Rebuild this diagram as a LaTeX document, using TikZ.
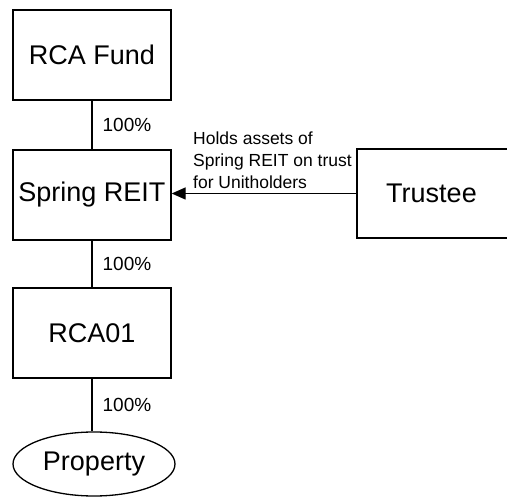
\documentclass[tikz,border=0pt]{standalone}
\usepackage{fontspec}
\setmainfont{Liberation Sans}
\usetikzlibrary{shapes.geometric,arrows.meta}
\begin{document}
\begin{tikzpicture}[x=1pt,y=-1pt,
  ent/.style={draw,line width=1.3pt,rectangle,minimum width=158pt,minimum height=90pt,inner sep=0pt,font=\fontsize{27}{32}\selectfont},
  pct/.style={anchor=west,inner sep=0pt,xshift=10pt,font=\fontsize{19}{22}\selectfont},
  link/.style={line width=1.3pt}]
\clip (0,0) rectangle (507,497);
\useasboundingbox (0,0) rectangle (507,497);
\node[ent] (fund) at (92,55) {RCA Fund};
\node[ent] (reit) at (92,195) {Spring REIT};
\node[ent] (rca) at (92,333) {RCA01};
\node[draw,line width=1.3pt,ellipse,minimum width=162pt,minimum height=64pt,inner sep=0pt,font=\fontsize{27}{32}\selectfont] (prop) at (94,464) {Property};
\node[ent,minimum width=158pt,minimum height=89pt] (trustee) at (436,193.5) {\hspace*{-9pt}Trustee};
\draw[link] (fund) -- node[pct] {100\%} (reit);
\draw[link] (reit) -- node[pct] {100\%} (rca);
\draw[link] (rca.south) -- node[pct] {100\%} (rca.south |- prop.north);
\draw[link,-{Triangle[length=14pt,width=12pt]}] (trustee.west) -- (trustee.west -| reit.east);
\node[anchor=south west,inner sep=0pt,align=left,font=\fontsize{17.5}{22}\selectfont] (note) at (193,189) {Holds assets of\\Spring REIT on trust\\for Unitholders};
\end{tikzpicture}
\end{document}
